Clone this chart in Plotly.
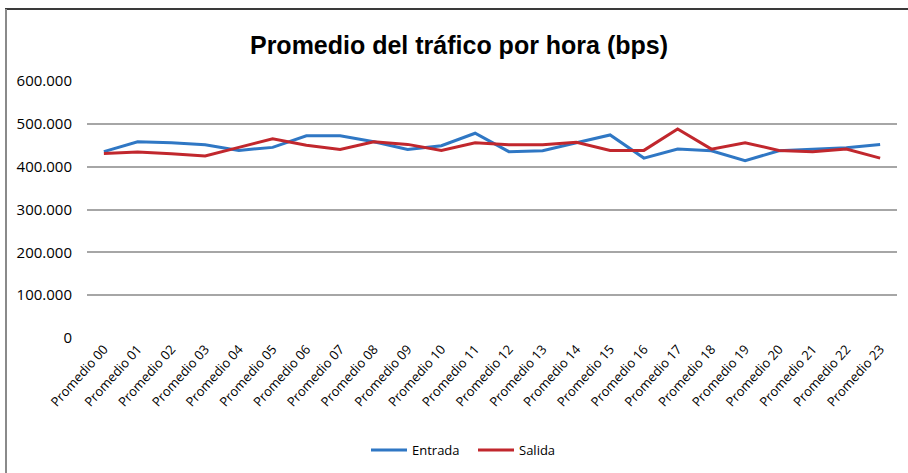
import plotly.graph_objects as go

# hourly averages
horas = [f"Promedio {h:02d}" for h in range(24)]

entrada = [435000, 458000, 456000, 451000, 438000, 445000, 472000, 472000,
           458000, 440000, 449000, 478000, 435000, 437000, 456000, 474000,
           420000, 441000, 437000, 414000, 437000, 441000, 444000, 452000]

salida = [431000, 434000, 430000, 425000, 445000, 465000, 450000, 440000,
          458000, 452000, 438000, 456000, 451000, 451000, 457000, 438000,
          438000, 488000, 441000, 456000, 438000, 435000, 441000, 420000]

y_ticks = [0, 100000, 200000, 300000, 400000, 500000, 600000]

BLUE = "#2f77c4"
RED = "#c1272d"
TICK_FONT = "Open Sans, Noto Sans, sans-serif"

fig = go.Figure()
fig.add_trace(go.Scatter(x=horas, y=entrada, name="Entrada", mode="lines",
                         line=dict(color=BLUE, width=3)))
fig.add_trace(go.Scatter(x=horas, y=salida, name="Salida", mode="lines",
                         line=dict(color=RED, width=3)))

# plot area: x 87..897, y 81..338 (pixels)
L, R, T, B = 87, 11, 81, 135
W, H = 908, 473
pw, ph = W - L - R, H - T - B

fig.update_layout(
    width=W, height=H,
    margin=dict(l=L, r=R, t=T, b=B, autoexpand=False),
    paper_bgcolor="white", plot_bgcolor="white",
    separators=",.",
    title=dict(text="<b>Promedio del tráfico por hora (bps)</b>",
               font=dict(family="Arial, Liberation Sans, sans-serif", size=25, color="#000"),
               x=459 / W, xanchor="center", y=1 - 45 / H, yanchor="middle"),
    legend=dict(orientation="h", x=(473 - L) / pw, xanchor="center",
                y=(338 - 450) / ph, yanchor="middle",
                font=dict(family=TICK_FONT, size=13, color="#000"),
                itemwidth=36, entrywidth=56, traceorder="normal"),
    showlegend=True,
)

# categories sit in the middle of their bands, as in the original
fig.update_xaxes(
    type="category", range=[-0.5, len(horas) - 0.5],
    tickangle=-48, showgrid=False, showline=False, zeroline=False,
    tickfont=dict(family=TICK_FONT, size=13, color="#000"), ticks="", automargin=False,
)
fig.update_yaxes(
    range=[0, 600000], tickvals=y_ticks, tickformat=",d",
    showgrid=True, gridcolor="#a6a6a6", gridwidth=1.5, zeroline=False, showline=False,
    tickfont=dict(family=TICK_FONT, size=15, color="#000"), ticks="", ticklabelstandoff=14,
    automargin=False,
)

# outer frame of the original chart (top and left edges)
fig.add_shape(type="line", xref="paper", yref="paper",
              x0=(5 - L) / pw, x1=(W - L) / pw, y0=(338 - 9) / ph, y1=(338 - 9) / ph,
              line=dict(color="#3a3a3a", width=2))
fig.add_shape(type="line", xref="paper", yref="paper",
              x0=(6 - L) / pw, x1=(6 - L) / pw, y0=(338 - 9) / ph, y1=(338 - H - 5) / ph,
              line=dict(color="#8a8a8a", width=2))

# drop the browser's default 8px body margin so the figure fills the window
fig.write_html("out.html", config={"displayModeBar": False},
               post_script="document.body.style.margin='0';")
